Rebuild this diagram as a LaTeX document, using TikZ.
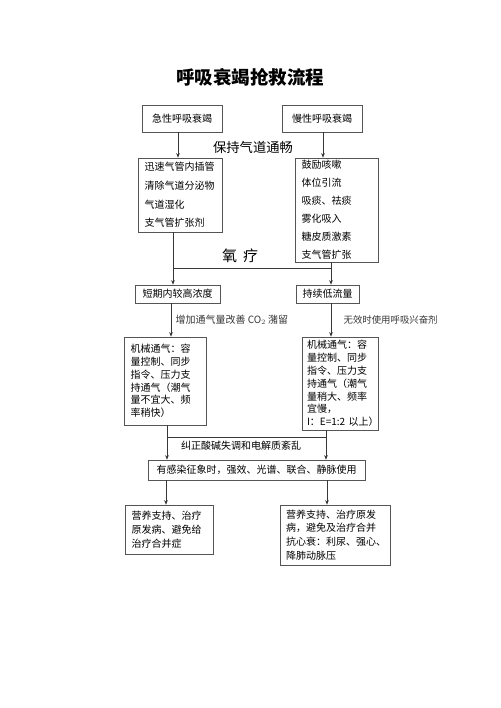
\documentclass[tikz,border=0pt]{standalone}
\usepackage{fontspec}
\setmainfont{Noto Sans CJK SC}
\usetikzlibrary{arrows.meta, positioning, calc}
\definecolor{cline}{RGB}{55,55,55}
\definecolor{cframe}{RGB}{85,85,85}

\begin{document}
\begin{tikzpicture}[
    x=1pt, y=-1pt,
    >={Stealth[length=4.5pt, width=3.6pt]},
    every node/.style={font=\fontsize{10}{12}\selectfont},
    box/.style={draw=cframe, line width=0.7pt, inner xsep=6.5pt, inner ysep=2pt, align=left},
    flow/.style={->, cline, line width=0.6pt},
    link/.style={cline, line width=0.6pt},
]
    \useasboundingbox (0,0) rectangle (500,708);

    % Title
    \node[font=\fontsize{18.5}{20}\selectfont\bfseries] (title) at (250,77) {呼吸衰竭抢救流程};

    % Onset
    \node[box, align=center, minimum width=80pt, minimum height=27pt] (acute) at (182,118.5) {急性呼吸衰竭};
    \node[box, align=center, minimum width=80pt, minimum height=27pt] (chronic) at (322,118.5) {慢性呼吸衰竭};
    \node[font=\fontsize{13.3}{15}\selectfont] (airway) at (253,147) {保持气道通畅};

    % Airway measures
    \node[box, text width=71pt, minimum height=74pt, font=\fontsize{10}{18.6}\selectfont] (clearL) at (180,195)
        {迅速气管内插管\\清除气道分泌物\\气道湿化\\支气管扩张剂};
    \node[box, text width=70pt, minimum height=104pt, font=\fontsize{10}{18}\selectfont] (clearR) at (336.5,210)
        {鼓励咳嗽\\体位引流\\吸痰、祛痰\\雾化吸入\\糖皮质激素\\支气管扩张};
    \draw[flow] (acute.south -| 178,0) -- (clearL.north -| 178,0);
    \draw[flow] (chronic.south -| 323,0) -- (clearR.north -| 323,0);

    % Oxygen
    \node[font=\fontsize{15}{17}\selectfont] (oxygen) at (240,256) {氧\hspace{6pt}疗};
    \coordinate (joinL) at (173,268);
    \coordinate (joinR) at (331,268);
    \node[box, align=center, minimum width=85pt, minimum height=18pt] (oxyHigh) at (177.5,294) {短期内较高浓度};
    \node[box, align=center, minimum width=59pt, minimum height=18pt] (oxyLow) at (327.5,294) {持续低流量};
    \draw[link] (clearL.south -| joinL) -- (joinL) -- (joinR) -- (clearR.south -| joinR);
    \draw[flow] (joinL) -- (oxyHigh.north -| joinL);
    \draw[flow] (joinR) -- (oxyLow.north -| joinR);

    % Ventilation
    \node[box, text width=69pt, minimum height=88pt, font=\fontsize{10}{12.8}\selectfont] (ventL) at (165,381)
        {机械通气：容\\量控制、同步\\指令、压力支\\持通气（潮气\\量不宜大、频\\率稍快）};
    \node[box, inner xsep=5pt, text width=66pt, minimum height=93pt, font=\fontsize{10}{12.8}\selectfont] (ventR) at (340,383.5)
        {机械通气：容\\量控制、同步\\指令、压力支\\持通气（潮气\\量稍大、频率\\宜慢，\\I：E=1:2~以上）};
    \coordinate (colE) at (171,0);
    \draw[flow] (oxyHigh.south -| colE) -- (ventL.north -| colE)
        node[midway, right=1pt] (boost) {增加通气量改善 CO$_2$ 潴留};
    \draw[flow] (oxyLow.south -| joinR) -- (ventR.north -| joinR)
        node[midway, right=9pt, font=\fontsize{9.4}{11}\selectfont] (stimulant) {无效时使用呼吸兴奋剂};

    % Acid-base and infection
    \coordinate (joinL2) at (167,437);
    \coordinate (joinR2) at (326,437);
    \node[box, align=center, minimum width=217pt, minimum height=20pt] (infect) at (256.5,470)
        {有感染征象时，强效、光谱、联合、静脉使用};
    \draw[link] (ventL.south -| joinL2) -- (joinL2) -- (joinR2) -- (ventR.south -| joinR2);
    \draw[flow] (joinL2) -- (infect.north -| joinL2);
    \draw[flow] (joinR2) -- (infect.north -| joinR2);
    \node (acidbase) at (241,445.5) {纠正酸碱失调和电解质紊乱};

    % Support
    \node[box, text width=75pt, minimum height=49pt, font=\fontsize{10}{14.2}\selectfont] (careL) at (169,529.5)
        {营养支持、治疗\\原发病、避免给\\治疗合并症};
    \node[box, inner xsep=6pt, text width=98pt, minimum height=60pt, font=\fontsize{10}{13.8}\selectfont] (careR) at (335,535)
        {营养支持、治疗原发\\病，避免及治疗合并\\抗心衰：利尿、强心、\\降肺动脉压};
    \draw[flow] (infect.south -| 166,0) -- (careL.north -| 166,0);
    \draw[flow] (infect.south -| 327,0) -- (careR.north -| 327,0);
\end{tikzpicture}
\end{document}
